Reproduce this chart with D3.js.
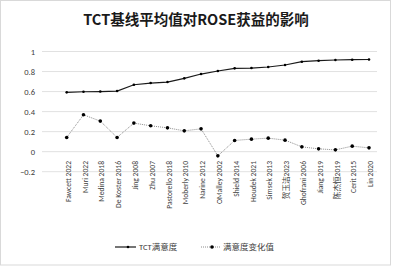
<!DOCTYPE html>
<html><head><meta charset="utf-8">
<script src="https://cdn.jsdelivr.net/npm/d3@7"></script>
<style>body{margin:0;background:#fff}svg{display:block}</style>
</head><body>
<script>
const categories = ["Fawcett 2022","Muri 2022","Medina 2018","De Koster 2016","Jing 2008","Zhu 2007","Pastorello 2018","Moberly 2010","Narine 2012","OMalley 2002","Shield 2014","Houdek 2021","Simsek 2013","贺玉洁2023","Ghofrani 2006","Jiang 2019","陈杰恒2019","Cerit 2015","Lin 2020"];
const tctSatisfaction = [0.592,0.598,0.600,0.605,0.668,0.685,0.695,0.732,0.775,0.805,0.832,0.835,0.845,0.865,0.898,0.908,0.915,0.918,0.920];
const satisfactionChange = [0.142,0.368,0.305,0.142,0.285,0.258,0.238,0.208,0.228,-0.042,0.112,0.125,0.135,0.115,0.048,0.028,0.018,0.055,0.038];
const yTicks = [-0.2,0,0.2,0.4,0.6,0.8,1];
const seriesNames = ["TCT满意度","满意度变化值"];
const title = "TCT基线平均值对ROSE获益的影响";

const W=393,H=268;
const svg=d3.select("body").append("svg").attr("width",W).attr("height",H);
svg.append("rect").attr("x",0.5).attr("y",0.5).attr("width",390).attr("height",264.5).attr("fill","#fff").attr("stroke","#d9d9d9");
const font="Calibri, Carlito, 'Noto Sans', 'Noto Sans CJK SC', sans-serif";
svg.append("text").attr("x",196).attr("y",25).attr("text-anchor","middle").attr("font-family","'Noto Sans CJK SC', 'Noto Sans', sans-serif").attr("font-weight","bold").attr("font-size",14.5).attr("fill","#1a1a1a").text(title);

const x=d3.scalePoint().domain(categories).range([66.7,369]);
const y=d3.scaleLinear().domain([-0.2,1]).range([171.7,51.5]);

const grid=svg.append("g");
grid.selectAll("line").data(yTicks).join("line").attr("x1",42).attr("x2",377).attr("y1",d=>y(d)).attr("y2",d=>y(d)).attr("stroke","#d9d9d9").attr("stroke-width",0.8);

const yAxis=d3.axisLeft(y).tickValues(yTicks).tickSize(0).tickPadding(0).tickFormat(d=>d3.format("")(+d.toFixed(1)));
const ya=svg.append("g").attr("transform","translate(35,0)").call(yAxis);
ya.select(".domain").remove();
ya.selectAll("text").attr("font-family",font).attr("font-size",8.5).attr("fill","#404040");

const xa=svg.append("g");
xa.selectAll("text").data(categories).join("text")
 .attr("transform",d=>`translate(${x(d)+4.2},161) rotate(-90)`)
 .attr("text-anchor","end").attr("font-family",font).attr("font-size",7.6).attr("fill","#404040").text(d=>d);

const line=d3.line().x((d,i)=>x(categories[i])).y(d=>y(d));
svg.append("path").datum(satisfactionChange).attr("d",line).attr("fill","none").attr("stroke","#7f7f7f").attr("stroke-width",0.9).attr("stroke-dasharray","1,1");
svg.append("g").selectAll("circle").data(satisfactionChange).join("circle").attr("cx",(d,i)=>x(categories[i])).attr("cy",d=>y(d)).attr("r",1.8).attr("fill","#000");
svg.append("path").datum(tctSatisfaction).attr("d",line).attr("fill","none").attr("stroke","#1a1a1a").attr("stroke-width",1.2);
svg.append("g").selectAll("circle").data(tctSatisfaction).join("circle").attr("cx",(d,i)=>x(categories[i])).attr("cy",d=>y(d)).attr("r",1.3).attr("fill","#000");

// legend
const lg=svg.append("g");
lg.append("line").attr("x1",115).attr("x2",136).attr("y1",247).attr("y2",247).attr("stroke","#1a1a1a").attr("stroke-width",1.2);
lg.append("circle").attr("cx",128).attr("cy",247).attr("r",1.3).attr("fill","#000");
lg.append("text").attr("x",139).attr("y",250).attr("font-family",font).attr("font-size",8.5).attr("fill","#404040").text(seriesNames[0]);
lg.append("line").attr("x1",201).attr("x2",221).attr("y1",247).attr("y2",247).attr("stroke","#7f7f7f").attr("stroke-width",0.9).attr("stroke-dasharray","1,1");
lg.append("circle").attr("cx",212).attr("cy",247).attr("r",1.8).attr("fill","#000");
lg.append("text").attr("x",223).attr("y",250).attr("font-family",font).attr("font-size",8.5).attr("fill","#404040").text(seriesNames[1]);
</script>
</body></html>
